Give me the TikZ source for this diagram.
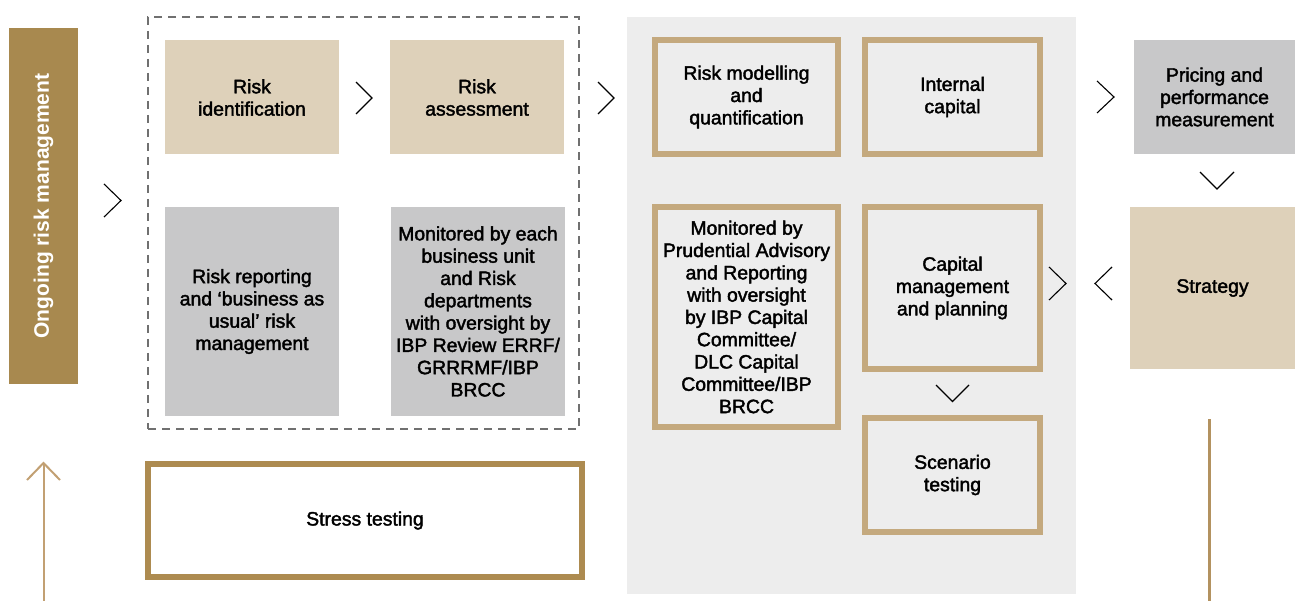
\documentclass[tikz,border=0pt]{standalone}
\usepackage{fontspec}
\setmainfont{Liberation Sans}
\newfontfamily\medfont{Liberation Sans}[FakeBold=2]
\usetikzlibrary{calc}

\definecolor{barbrown}{HTML}{A8894F}
\definecolor{tanfill}{HTML}{DED1BA}
\definecolor{greyfill}{HTML}{C8C8C9}
\definecolor{panelgrey}{HTML}{EDEDED}
\definecolor{lightgold}{HTML}{C4A97E}
\definecolor{darkgold}{HTML}{AD8B50}
\definecolor{arrowgold}{HTML}{C2A073}
\definecolor{linegold}{HTML}{B39260}
\definecolor{dashgrey}{HTML}{707070}

\tikzset{
  box/.style={inner sep=0pt, align=center, text=black,
    font=\medfont\fontsize{19.4}{22.3}\selectfont},
  tanbox/.style={box, fill=tanfill},
  greybox/.style={box, fill=greyfill},
  goldbox/.style={box, fill=panelgrey, draw=lightgold, line width=6pt},
  stressbox/.style={box, fill=white, draw=darkgold, line width=6pt},
  chevron/.style={draw=black, line width=1.1pt, line join=miter, line cap=butt},
}

\begin{document}
\begin{tikzpicture}[x=1pt, y=-1pt]
\useasboundingbox (0,0) rectangle (1295,601);

% background panel and dashed grouping frame
\node[fill=panelgrey, inner sep=0pt, minimum width=449, minimum height=577] (panel) at (851.5,305.5) {};
\node[draw=dashgrey, line width=1.2pt, dash pattern=on 8pt off 6pt, inner sep=0pt,
      minimum width=431, minimum height=412] (frame) at (363.5,223) {};

% vertical title bar
\node[fill=barbrown, rotate=90, inner sep=0pt, minimum width=356, minimum height=69,
      text=white, font=\bfseries\fontsize{21}{24}\selectfont] (ongoing) at (43.5,206)
      {Ongoing risk management};

% risk process boxes
\node[tanbox, minimum width=174, minimum height=114] (riskid) at (252,97.5)
  {Risk\\identification};
\node[tanbox, minimum width=174, minimum height=114] (riskas) at (477,97.5)
  {Risk\\assessment};
\node[greybox, minimum width=174, minimum height=209] (riskrep) at (252,311.5)
  {Risk reporting\\and ‘business as\\usual’ risk\\management};
\node[greybox, minimum width=174, minimum height=209] (monbu) at (478,311.5)
  {Monitored by each\\business unit\\and Risk\\departments\\with oversight by\\IBP Review ERRF/\\GRRRMF/IBP\\BRCC};

% capital boxes
\node[goldbox, minimum width=183, minimum height=114] (model) at (746.5,97)
  {Risk modelling\\and\\quantification};
\node[goldbox, minimum width=175, minimum height=114] (intcap) at (952.5,97)
  {Internal\\capital};
\node[goldbox, minimum width=183, minimum height=220] (monprud) at (746.5,317)
  {Monitored by\\Prudential Advisory\\and Reporting\\with oversight\\by IBP Capital\\Committee/\\DLC Capital\\Committee/IBP\\BRCC};
\node[goldbox, minimum width=175, minimum height=162] (capmgmt) at (952.5,288)
  {Capital\\management\\and planning};
\node[goldbox, minimum width=175, minimum height=114] (scen) at (952.5,475)
  {Scenario\\testing};

% right column
\node[greybox, minimum width=161, minimum height=114] (pricing) at (1214.5,97)
  {Pricing and\\performance\\measurement};
\node[tanbox, minimum width=165, minimum height=162] (strategy) at (1212.5,288)
  {Strategy};

% stress testing
\node[stressbox, minimum width=434, minimum height=113] (stress) at (365,520.5)
  {Stress testing};

% chevrons between stages
\draw[chevron] (104,184) -- (121,200.5) -- (104,217);
\draw[chevron] (356,82) -- (372,98) -- (356,114);
\draw[chevron] (598,82) -- (614,98) -- (598,114);
\draw[chevron] (1097,81) -- (1114,97) -- (1097,113);
\draw[chevron] (1200,172) -- (1217,189) -- (1234,172);
\draw[chevron] (1049,267) -- (1066,283.5) -- (1049,300);
\draw[chevron] (1112,267) -- (1095,283.5) -- (1112,300);
\draw[chevron] (936,385) -- (952.5,401.5) -- (969,385);

% feedback arrow and line
\coordinate (upfoot) at (43.5,601);
\coordinate (uptip) at (43.5,463);
\draw[arrowgold, line width=2pt] (upfoot) -- (uptip);
\draw[arrowgold, line width=2pt, line join=miter]
  ($(uptip)+(-16.5,17)$) -- (uptip) -- ($(uptip)+(16.5,17)$);
\coordinate (rtop) at (1209,419);
\coordinate (rfoot) at (1209,601);
\draw[linegold, line width=3pt] (rtop) -- (rfoot);
\end{tikzpicture}
\end{document}
